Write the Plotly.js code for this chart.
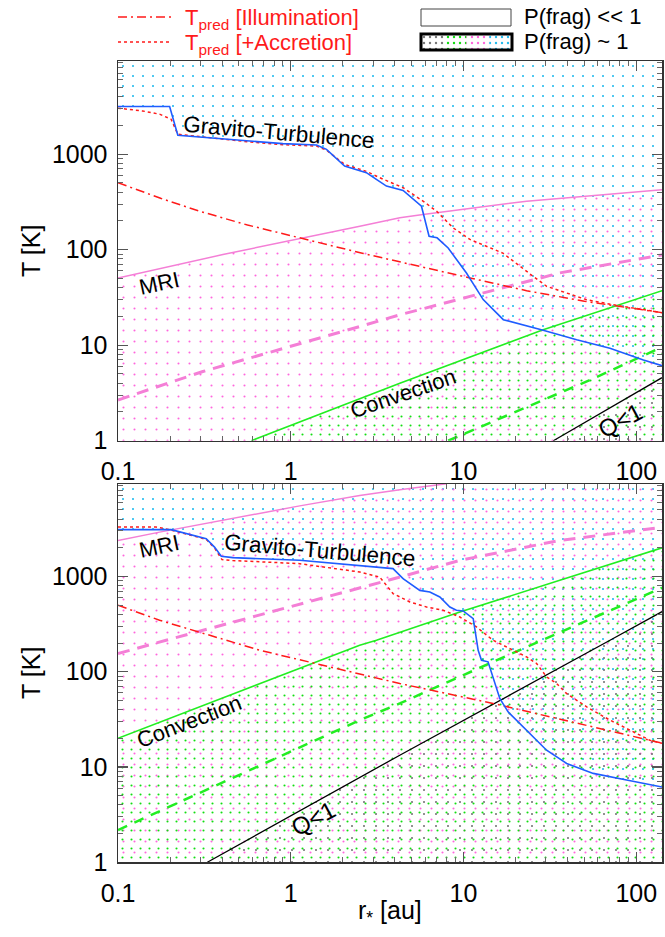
<!DOCTYPE html>
<html><head><meta charset="utf-8">
<script src="https://cdn.plot.ly/plotly-3.0.1.min.js"></script>
<style>html,body{margin:0;padding:0;background:#fff}#chart{width:665px;height:937px}</style>
</head><body><div id="chart"></div>
<script>
// ---------- data: top panel ----------
const rGT1 = [0.1, 0.199, 0.222, 0.58, 0.90, 1.41, 1.61, 2.05, 2.28, 2.74, 3.13, 3.58, 4.47, 5.71, 6.32, 7.03, 8.15, 10.4, 13.0, 17.0, 28.9, 45.2, 70.4, 110, 141];
const TGT1 = [3150, 3150, 1575, 1372, 1288, 1245, 1122, 750, 710, 640, 544, 463, 417, 285, 138, 133, 104, 57, 30, 18.5, 14.3, 11.4, 9.3, 7.0, 6.1];
const rACC1 = [0.1, 0.139, 0.174, 0.203, 0.222, 0.58, 0.90, 1.41, 1.61, 2.05, 2.74, 3.27, 4.47, 5.83, 6.98, 8.72, 10.9, 13.6, 16.9, 25.3, 30.3, 39.5, 51.6, 73.6, 100, 141];
const TACC1 = [3030, 2830, 2620, 2320, 1615, 1340, 1255, 1215, 1100, 780, 660, 567, 445, 322, 253, 169, 128, 109, 92, 52.6, 41.3, 35.2, 29.9, 26.5, 24.2, 21.9];
const rILL1 = [0.1, 0.178, 0.296, 0.562, 1.127, 2.63, 10.9, 23.2, 50.1, 141];
const TILL1 = [502, 343, 253, 181, 133, 91.2, 50.6, 37.2, 28.8, 21.9];
const rMRI1 = [0.1, 0.405, 2.51, 4.28, 5.83, 23.2, 141];
const TMRI1 = [50.6, 88.9, 176, 216, 233, 322, 425];
const rMRId1 = [0.1, 0.31, 2.51, 4.28, 10.9, 36.1, 141];
const TMRId1 = [2.67, 5.30, 15.7, 20.8, 32.4, 57.1, 88.1];
const rCONV1 = [0.592, 2.51, 4.28, 28.9, 141];
const TCONV1 = [1, 2.79, 4.0, 14.5, 37.2];
const rCONVd1 = [8.15, 56.4, 141];
const TCONVd1 = [1, 4.47, 9.55];
const rQ1 = [33.1, 141];
const TQ1 = [1, 4.57];

// ---------- data: bottom panel ----------
const rGT2 = [0.1, 0.203, 0.324, 0.362, 0.396, 0.462, 1.127, 2.506, 3.908, 4.467, 5.585, 6.383, 7.295, 8.337, 9.1, 9.954, 11.38, 12.16, 12.71, 13.87, 14.83, 16.22, 18.11, 23.17, 30.27, 39.54, 56.36, 87.9, 141];
const TGT2 = [3097, 3097, 2489, 2032, 1626, 1574, 1476, 1306, 1208, 948, 714, 687, 608, 478, 442, 434, 361, 168, 132, 127, 88.3, 52.4, 37.9, 24.4, 15.0, 10.9, 8.57, 7.29, 6.17];
const rACC2 = [0.1, 0.166, 0.2, 0.324, 0.362, 0.40, 0.46, 1.127, 2.506, 3.273, 3.908, 4.887, 6.109, 7.621, 9.528, 11.89, 14.83, 17.74, 23.17, 26.49, 30.27, 34.59, 39.54, 51.64, 70.47, 100.5, 119.9, 141];
const TACC2 = [3300, 3300, 3090, 2450, 1990, 1500, 1470, 1361, 1112, 986, 661, 540, 478, 442, 375, 295, 214, 182, 143, 122, 88.3, 75.2, 59.0, 42.8, 31.0, 22.5, 19.1, 17.7];
const rILL2 = [0.1, 0.174, 0.661, 2.506, 4.276, 14.83, 141];
const TILL2 = [498, 347, 168, 95.7, 75.2, 46.5, 17.8];
const rMRI2 = [0.1, 0.174, 1.127, 2.506, 4.276, 7.98];
const TMRI2 = [2388, 2917, 5500, 7079, 8128, 9397];
const rMRId2 = [0.1, 0.19, 4.09, 9.53, 36.1, 141];
const TMRId2 = [155, 214, 962, 1476, 2388, 3273];
const rCONV2 = [0.1, 2.506, 3.133, 9.53, 36.1, 141];
const TCONV2 = [20.0, 190, 214, 424, 910, 1995];
const rCONVd2 = [0.1, 2.506, 4.276, 23.17, 141];
const TCONVd2 = [2.18, 31.0, 46.5, 182, 759];
const rQ2 = [0.329, 4.276, 70.47, 141];
const TQ2 = [1, 13.3, 214, 427];

const xTickVals = [0.1, 1, 10, 100];
const xTickText = ['0.1', '1', '10', '100'];
const yTickVals = [1, 10, 100, 1000];
const yTickText = ['1', '10', '100', '1000'];

// ---------- styling ----------
const W = 665, H = 937, ML = 118, MR = 3;
const X = px => (px - ML) / (W - ML - MR);
const Y = py => 1 - py / H;
const RMIN = 0.1, RMAX = 141, TLO = 0.1, THI = 1e5;
const FONT = 'Liberation Sans, Arial, Helvetica, sans-serif';
const C = {blue:'#1f5cff', red:'#ff1a1a', pink:'#f47fd6', pinkDot:'#ff66dd', green:'#22ee22', greenDot:'#11dd11', cyan:'#22bbee', gray:'#777777'};

function pat(color, size, sol) {
  return {shape:'.', fgcolor:color, bgcolor:'rgba(0,0,0,0)', size:size, solidity:sol, fillmode:'replace'};
}
function belowFill(r, T, color, size, sol, xa, ya, extraR, extraT) {
  let x = r.slice(), y = T.slice();
  if (extraR) { x = x.concat(extraR); y = y.concat(extraT); }
  x = x.concat([RMAX, r[0]]); y = y.concat([TLO, TLO]);
  return {type:'scatter', mode:'none', x:x, y:y, fill:'toself', fillcolor:'rgba(0,0,0,0)',
          fillpattern:pat(color, size, sol), hoverinfo:'skip', xaxis:xa, yaxis:ya};
}
function aboveFill(r, T, color, size, sol, xa, ya) {
  const x = r.concat([RMAX, RMIN]); const y = T.concat([THI, THI]);
  return {type:'scatter', mode:'none', x:x, y:y, fill:'toself', fillcolor:'rgba(0,0,0,0)',
          fillpattern:pat(color, size, sol), hoverinfo:'skip', xaxis:xa, yaxis:ya};
}
function line(r, T, color, width, dash, xa, ya) {
  return {type:'scatter', mode:'lines', x:r, y:T, line:{color:color, width:width, dash:dash},
          hoverinfo:'skip', xaxis:xa, yaxis:ya};
}

const DASHDOT = '9px,4px,2px,4px';
const traces = [];
[['x','y',rGT1,TGT1,rMRI1,TMRI1,rCONV1,TCONV1,rQ1,TQ1,null,null],
 ['x2','y2',rGT2,TGT2,rMRI2,TMRI2,rCONV2,TCONV2,rQ2,TQ2,[RMAX],[THI]]].forEach(p => {
  const [xa, ya, rg, Tg, rm, Tm, rc, Tc, rq, Tq, er, et] = p;
  traces.push(aboveFill(rg, Tg, C.cyan, 10, 0.035, xa, ya));
  traces.push(belowFill(rm, Tm, C.pinkDot, 11, 0.028, xa, ya, er, et));
  traces.push(belowFill(rc, Tc, C.greenDot, 9, 0.045, xa, ya));
  traces.push(belowFill(rq, Tq, C.gray, 12, 0.025, xa, ya));
});
// lines top
traces.push(line(rMRI1, TMRI1, C.pink, 1.5, 'solid', 'x', 'y'));
traces.push(line(rMRId1, TMRId1, C.pink, 3, '12px,8px', 'x', 'y'));
traces.push(line(rCONV1, TCONV1, C.green, 1.6, 'solid', 'x', 'y'));
traces.push(line(rCONVd1, TCONVd1, C.green, 2.5, '10px,8px', 'x', 'y'));
traces.push(line(rQ1, TQ1, '#000', 1.3, 'solid', 'x', 'y'));
traces.push(line(rILL1, TILL1, C.red, 1.5, DASHDOT, 'x', 'y'));
traces.push(line(rACC1, TACC1, C.red, 1.5, 'dot', 'x', 'y'));
traces.push(line(rGT1, TGT1, C.blue, 1.6, 'solid', 'x', 'y'));
// lines bottom
traces.push(line(rMRI2, TMRI2, C.pink, 1.5, 'solid', 'x2', 'y2'));
traces.push(line(rMRId2, TMRId2, C.pink, 3, '12px,8px', 'x2', 'y2'));
traces.push(line(rCONV2, TCONV2, C.green, 1.6, 'solid', 'x2', 'y2'));
traces.push(line(rCONVd2, TCONVd2, C.green, 2.5, '10px,8px', 'x2', 'y2'));
traces.push(line(rQ2, TQ2, '#000', 1.3, 'solid', 'x2', 'y2'));
traces.push(line(rILL2, TILL2, C.red, 1.5, DASHDOT, 'x2', 'y2'));
traces.push(line(rACC2, TACC2, C.red, 1.5, 'dot', 'x2', 'y2'));
traces.push(line(rGT2, TGT2, C.blue, 1.6, 'solid', 'x2', 'y2'));

// legend patterned box (four bands) on a hidden helper axis
const bandColors = [C.gray, C.greenDot, C.pinkDot, C.cyan];
bandColors.forEach((col, i) => {
  traces.push({type:'scatter', mode:'none', x:[i, i+1, i+1, i, i], y:[0, 0, 1, 1, 0], fill:'toself',
    fillcolor:'rgba(0,0,0,0)', fillpattern:pat(col, 6, 0.12), hoverinfo:'skip', xaxis:'x3', yaxis:'y3'});
});

function xax(anchor) {
  return {type:'log', range:[-1, 2.149], anchor:anchor, domain:[0,1],
    tickmode:'array', tickvals:xTickVals, ticktext:xTickText,
    ticks:'inside', ticklen:10, tickwidth:1.2, tickcolor:'#555', mirror:'allticks',
    showline:true, linecolor:'#333', linewidth:1.5, showgrid:false, zeroline:false,
    minor:{ticks:'inside', ticklen:5, tickwidth:1, tickcolor:'#666', dtick:'D1', showgrid:false},
    tickfont:{family:FONT, size:25, color:'#000'}, ticklabelstandoff:8};
}
function yax(anchor, domain, top) {
  return {type:'log', range:[0, top], anchor:anchor, domain:domain,
    tickmode:'array', tickvals:yTickVals, ticktext:yTickText,
    ticks:'inside', ticklen:10, tickwidth:1.2, tickcolor:'#555', mirror:'allticks',
    showline:true, linecolor:'#333', linewidth:1.5, showgrid:false, zeroline:false,
    minor:{ticks:'inside', ticklen:5, tickwidth:1, tickcolor:'#666', dtick:'D1', showgrid:false},
    tickfont:{family:FONT, size:25, color:'#000'}, ticklabelstandoff:4};
}

const ann = [];
function txt(text, px, py, angle, size, color, xanchor) {
  ann.push({text:text, xref:'paper', yref:'paper', x:X(px), y:Y(py), showarrow:false,
    textangle:angle, xanchor:xanchor || 'center', yanchor:'middle',
    font:{family:FONT, size:size, color:color || '#000'}});
}
// region labels
txt('Gravito-Turbulence', 279, 132.5, 5, 22.5);
txt('MRI', 158.7, 283.3, -12, 22);
txt('Convection', 403, 393, -19, 22);
txt('Q&lt;1', 620, 420, -28, 24);
txt('MRI', 158.7, 546.7, -12, 22);
txt('Gravito-Turbulence', 320, 550, 5, 22.5);
txt('Convection', 189, 721, -21, 22);
txt('Q&lt;1', 313, 818, -28, 24);
// axis titles
txt('T [K]', 31, 251, -90, 25);
txt('T [K]', 31, 673, -90, 25);
txt('r<sub>*</sub> [au]', 390, 912, 0, 25);
// legend texts
txt('T<sub>pred</sub> [Illumination]', 183, 19, 0, 22, C.red, 'left');
txt('T<sub>pred</sub> [+Accretion]', 183, 44, 0, 22, C.red, 'left');
txt('P(frag) &lt;&lt; 1', 522, 17, 0, 22, '#000', 'left');
txt('P(frag) ~ 1', 522, 42, 0, 22, '#000', 'left');

const shapes = [
  {type:'line', xref:'paper', yref:'paper', x0:X(118), x1:X(172), y0:Y(17), y1:Y(17), line:{color:C.red, width:1.5, dash:DASHDOT}},
  {type:'line', xref:'paper', yref:'paper', x0:X(118), x1:X(170), y0:Y(42), y1:Y(42), line:{color:C.red, width:1.5, dash:'dot'}},
  {type:'rect', xref:'paper', yref:'paper', x0:X(421), x1:X(511), y0:Y(26), y1:Y(9), line:{color:'#444', width:1}},
  {type:'rect', xref:'paper', yref:'paper', x0:X(421), x1:X(512), y0:Y(50), y1:Y(34), line:{color:'#000', width:3}}
];

const layout = {
  width:W, height:H, margin:{l:ML, r:MR, t:0, b:0, pad:0},
  paper_bgcolor:'#fff', plot_bgcolor:'rgba(0,0,0,0)', showlegend:false,
  xaxis:xax('y'), yaxis:yax('x', [Y(440.7), Y(61)], 3.975),
  xaxis2:xax('y2'), yaxis2:yax('x2', [Y(862.3), Y(484)], 3.97),
  xaxis3:{domain:[X(421), X(512)], range:[0,4], visible:false, anchor:'y3', fixedrange:true},
  yaxis3:{domain:[Y(50), Y(34)], range:[0,1], visible:false, anchor:'x3', fixedrange:true},
  annotations:ann, shapes:shapes
};
Plotly.newPlot('chart', traces, layout, {staticPlot:true, displayModeBar:false});
</script></body></html>
